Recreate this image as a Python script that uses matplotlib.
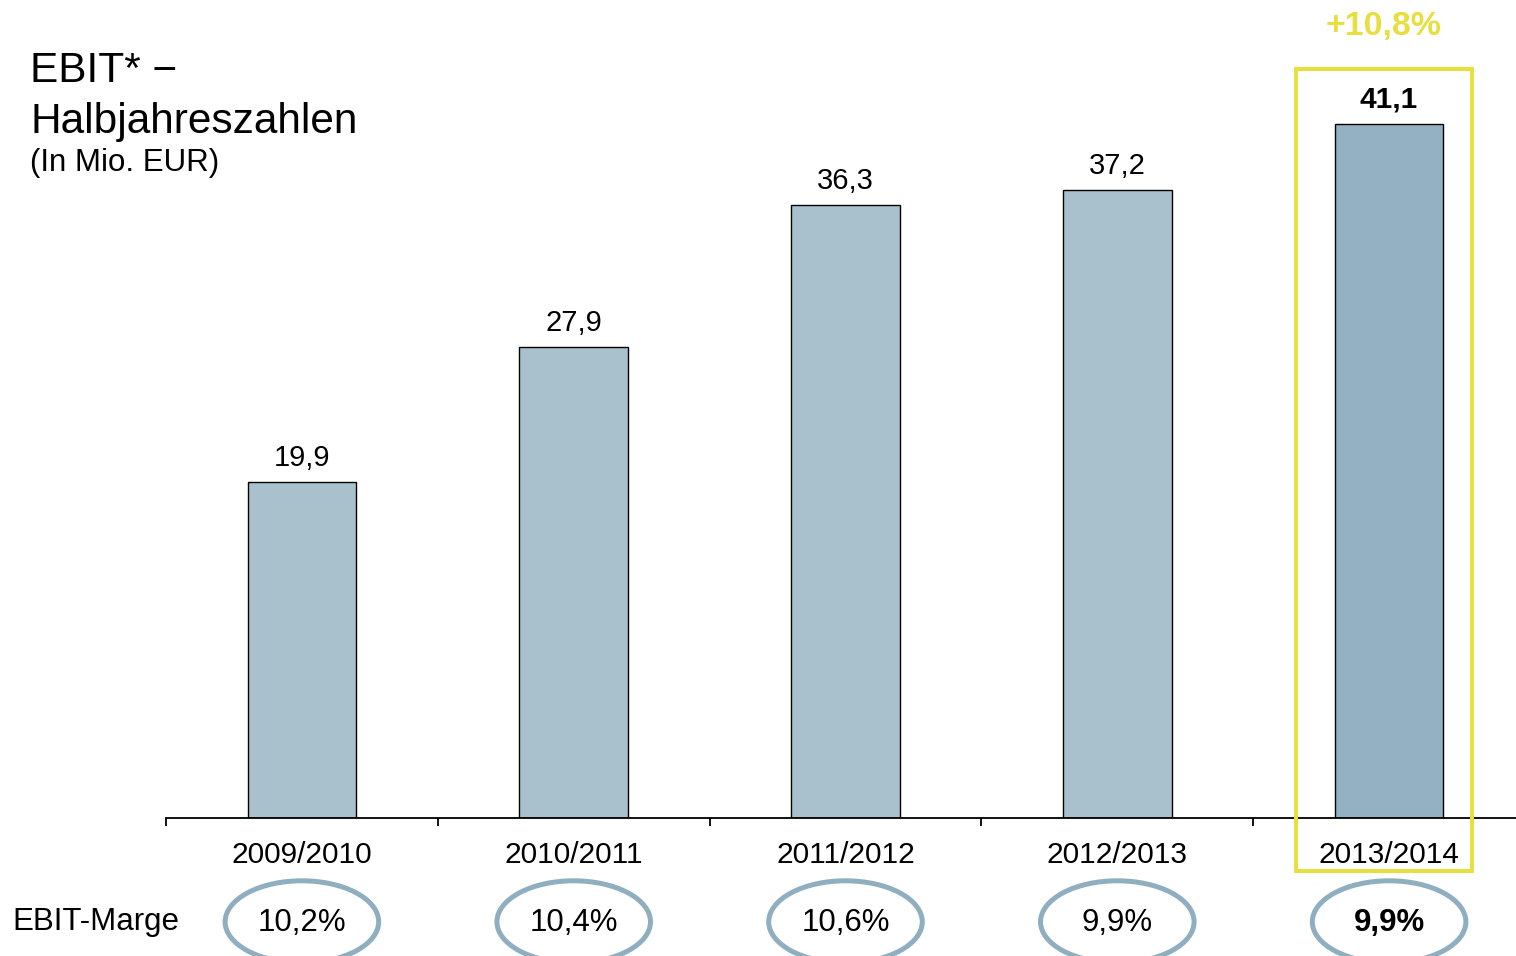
import matplotlib
matplotlib.use("Agg")
import matplotlib.pyplot as plt
from matplotlib.patches import Ellipse, Rectangle

matplotlib.rcParams["font.family"] = ["Liberation Sans", "DejaVu Sans"]

# data
years = ["2009/2010", "2010/2011", "2011/2012", "2012/2013", "2013/2014"]
ebit = [19.9, 27.9, 36.3, 37.2, 41.1]
ebit_labels = ["19,9", "27,9", "36,3", "37,2", "41,1"]
margins = ["10,2%", "10,4%", "10,6%", "9,9%", "9,9%"]
growth_label = "+10,8%"

bar_color = "#a9c1cd"
last_color = "#93b1c3"
yellow = "#e6df3f"
ring_color = "#8fafc0"

fig = plt.figure(figsize=(15.16, 9.56), dpi=100)
W, H = 1516, 956
ax = fig.add_axes([166 / W, (H - 818) / H, 1350 / W, 818 / H])

x = list(range(len(years)))
colors = [bar_color] * (len(years) - 1) + [last_color]
ax.bar(x, ebit, width=0.4, color=colors, edgecolor="black", linewidth=1.0, zorder=2)

ax.set_xlim(-0.5, -0.5 + 1350 / 271.8)
ax.set_ylim(0, 818 / 16.88)

for s in ["top", "right", "left"]:
    ax.spines[s].set_visible(False)
ax.spines["bottom"].set_linewidth(1.3)
ax.set_yticks([])
ax.set_xticks([i - 0.5 for i in x])
ax.set_xticklabels([])
ax.tick_params(axis="x", which="major", length=6, width=1.3, direction="out")
ax.set_xticks(x, minor=True)
ax.set_xticklabels(years, minor=True, fontsize=21.5)
ax.tick_params(axis="x", which="minor", length=0, pad=16.5)

# value labels
for i, (v, lab) in enumerate(zip(ebit, ebit_labels)):
    last = i == len(years) - 1
    ax.annotate(lab, (i, v), xytext=(0, 12 if last else 11.8), textcoords="offset points",
                ha="center", va="baseline", fontsize=21.5 if last else 21,
                fontweight="bold" if last else "normal")

# highlight box around the latest year
ax.add_patch(Rectangle((3.658, -3.14), 0.647, 47.5, fill=False, edgecolor=yellow,
                       linewidth=2.9, clip_on=False, zorder=3))
ax.text(3.98, 46.4, growth_label, ha="center", va="baseline", fontsize=24.4,
        fontweight="bold", color=yellow)

# EBIT margin rings
ax.text(-1.066, -6.15, "EBIT-Marge", ha="left", va="center", fontsize=22.5)
for i, m in enumerate(margins):
    last = i == len(years) - 1
    ax.add_patch(Ellipse((i, -6.15), 0.565, 4.86, fill=False, edgecolor=ring_color,
                         linewidth=3.6, clip_on=False))
    ax.text(i, -6.2, m, ha="center", va="center", fontsize=22.5,
            fontweight="bold" if last else "normal")

# title
fig.text(30 / W, 1 - 82 / H, "EBIT* \u2212", fontsize=30.5, ha="left", va="baseline")
fig.text(30 / W, 1 - 133 / H, "Halbjahreszahlen", fontsize=30.5, ha="left", va="baseline")
fig.text(30 / W, 1 - 171 / H, "(In Mio. EUR)", fontsize=22.5, ha="left", va="baseline")

fig.savefig("out.png", dpi=100)
